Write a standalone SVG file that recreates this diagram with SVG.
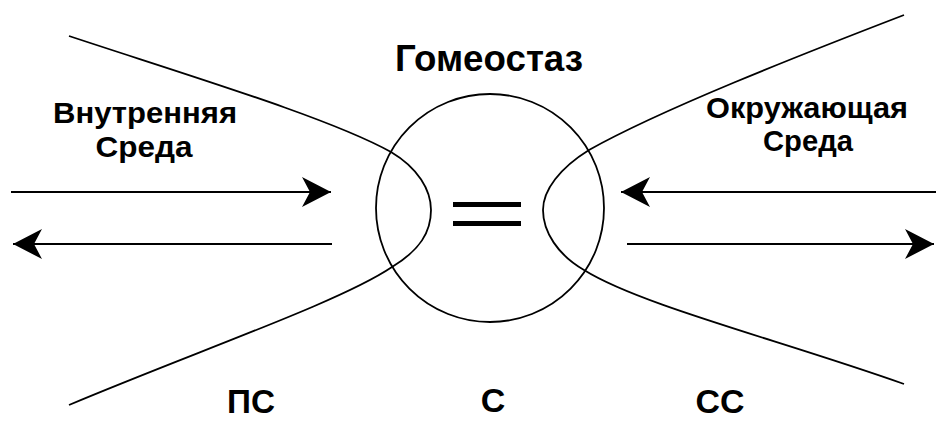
<svg xmlns="http://www.w3.org/2000/svg" width="936" height="421" viewBox="0 0 936 421">
<style>
.t{font-family:"Liberation Sans",Arial,sans-serif;font-weight:bold;fill:#000;text-anchor:middle}
.ln{fill:none;stroke:#000;stroke-width:1.8}
.ar{fill:none;stroke:#000;stroke-width:2}
</style>
<defs>
<marker id="ah" markerUnits="userSpaceOnUse" markerWidth="32" markerHeight="32" viewBox="-30 -16 32 32" refX="0" refY="0" orient="auto">
<path d="M0,0 L-29,-15 L-21,0 L-29,15 Z" fill="#000"/>
</marker>
</defs>
<rect width="936" height="421" fill="#fff"/>
<g id="circle">
<circle cx="490" cy="208" r="114" class="ln"/>
<rect x="453" y="202" width="68" height="5" fill="#000"/>
<rect x="453" y="221" width="68" height="5" fill="#000"/>
</g>
<g id="inner">
<path class="ln" d="M69,36 C190,76 330,118 391,152 C418,168 431,190 431,210 C431,232 420,250 392,267 C340,302 200,350 69,405"/>
<text class="t" x="145" y="123" font-size="30" textLength="184" lengthAdjust="spacingAndGlyphs">Внутренняя</text>
<text class="t" x="144" y="157" font-size="30" textLength="97" lengthAdjust="spacingAndGlyphs">Среда</text>
</g>
<g id="outer">
<path class="ln" d="M904,15 C800,55 660,110 589,150 C560,168 543,190 543,210 C543,232 558,255 584,270 C640,305 780,340 904,384"/>
<text class="t" x="807" y="118" font-size="30" textLength="202" lengthAdjust="spacingAndGlyphs">Окружающая</text>
<text class="t" x="808" y="151" font-size="30" textLength="90" lengthAdjust="spacingAndGlyphs">Среда</text>
</g>
<g id="title"><text class="t" x="489" y="71" font-size="36" textLength="188" lengthAdjust="spacingAndGlyphs">Гомеостаз</text></g>
<g id="ps"><text class="t" x="251" y="413" font-size="34" textLength="48" lengthAdjust="spacingAndGlyphs">ПС</text></g>
<g id="s"><text class="t" x="493" y="412" font-size="34">С</text></g>
<g id="ss"><text class="t" x="720" y="413" font-size="34" textLength="49" lengthAdjust="spacingAndGlyphs">СС</text></g>
<g id="connectors">
<line class="ar" x1="11" y1="192" x2="331" y2="192" marker-end="url(#ah)"/>
<line class="ar" x1="332" y1="244" x2="13" y2="244" marker-end="url(#ah)"/>
<line class="ar" x1="936" y1="192" x2="621" y2="192" marker-end="url(#ah)"/>
<line class="ar" x1="627" y1="244" x2="934" y2="244" marker-end="url(#ah)"/>
</g>
</svg>
